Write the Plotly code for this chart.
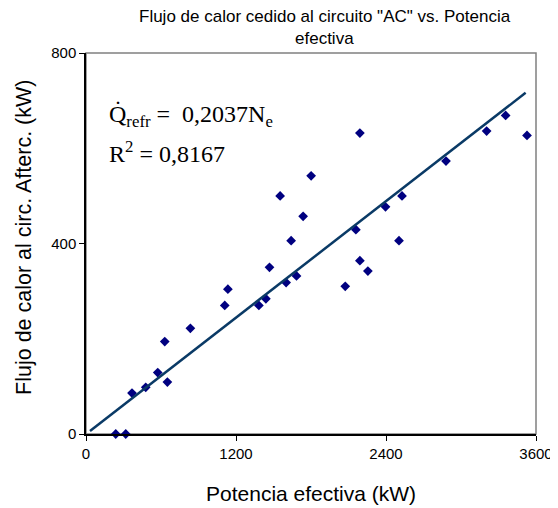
import plotly.graph_objects as go

# Data
potencia_kw = [238, 318, 368, 478, 574, 651, 630, 835, 1110, 1135, 1383, 1439, 1468,
               1601, 1684, 1553, 1641, 1737, 1801, 2074, 2159, 2191, 2191, 2255,
               2396, 2504, 2528, 2880, 3205, 3357, 3528]
calor_kw = [0, 0, 86, 98, 129, 109, 194, 222, 270, 304, 270, 284, 350,
            318, 332, 500, 406, 457, 542, 310, 429, 364, 632, 342,
            477, 406, 500, 573, 636, 669, 627]
slope = 0.2037
trend_x = [32, 3517]
trend_y = [slope * v for v in trend_x]

x_ticks = [0, 1200, 2400, 3600]
y_ticks = [0, 400, 800]

title_lines = ['Flujo de calor cedido al circuito "AC" vs. Potencia', 'efectiva']
x_title = "Potencia efectiva (kW)"
y_title = "Flujo de calor al circ. Afterc. (kW)"

fig = go.Figure()
fig.add_trace(go.Scatter(
    x=potencia_kw, y=calor_kw, mode="markers",
    marker=dict(symbol="diamond", size=7.5, color="#000080"),
    cliponaxis=False, showlegend=False))
fig.add_trace(go.Scatter(
    x=trend_x, y=trend_y, mode="lines",
    line=dict(color="#0a3a66", width=2.5), showlegend=False))

fig.add_shape(type="rect", xref="paper", yref="paper", x0=0, y0=0, x1=1, y1=1,
              line=dict(color="#808080", width=1.5), layer="below")

# Equation text
fig.add_annotation(xref="paper", yref="paper", x=0.046, y=0.835, xanchor="left", yanchor="middle",
                   text="Q\u0307<sub>refr</sub> =  0,2037N<sub>e</sub>", showarrow=False,
                   font=dict(family="Liberation Serif", size=24, color="black"))
fig.add_annotation(xref="paper", yref="paper", x=0.046, y=0.740, xanchor="left", yanchor="middle",
                   text="R<sup>2</sup> = 0,8167", showarrow=False,
                   font=dict(family="Liberation Serif", size=24, color="black"))

# Chart title (two lines)
fig.add_annotation(xref="paper", yref="paper", x=0.530, y=1.097, xanchor="center", yanchor="middle",
                   text=title_lines[0], showarrow=False,
                   font=dict(family="Liberation Sans", size=17, color="black"))
fig.add_annotation(xref="paper", yref="paper", x=0.530, y=1.037, xanchor="center", yanchor="middle",
                   text=title_lines[1], showarrow=False,
                   font=dict(family="Liberation Sans", size=17, color="black"))

# Axis titles
fig.add_annotation(xref="paper", yref="paper", x=0.5, y=-0.157, xanchor="center", yanchor="middle",
                   text=x_title, showarrow=False,
                   font=dict(family="Liberation Sans", size=21, color="black"))
fig.add_annotation(xref="paper", yref="paper", x=-0.138, y=0.517, xanchor="center", yanchor="middle",
                   text=y_title, showarrow=False, textangle=-90,
                   font=dict(family="Liberation Sans", size=21.5, color="black"))

# The page adds an 8px body margin, so the figure is 8px smaller and margins shifted
fig.update_layout(
    width=550, height=500,
    margin=dict(l=78, r=22, t=45, b=74, autoexpand=False),
    paper_bgcolor="white", plot_bgcolor="white",
    font=dict(family="Liberation Sans", color="black"),
    xaxis=dict(range=[0, 3600], tickvals=x_ticks, ticks="outside", ticklen=5,
               tickcolor="black", showline=True, linecolor="black", linewidth=1.5,
               showgrid=False, zeroline=False, tickfont=dict(size=15), automargin=False),
    yaxis=dict(range=[0, 800], tickvals=y_ticks, ticks="outside", ticklen=5,
               tickcolor="black", showline=True, linecolor="black", linewidth=1.5,
               showgrid=False, zeroline=False, tickfont=dict(size=15), automargin=False),
)

fig.write_html("out.html")
